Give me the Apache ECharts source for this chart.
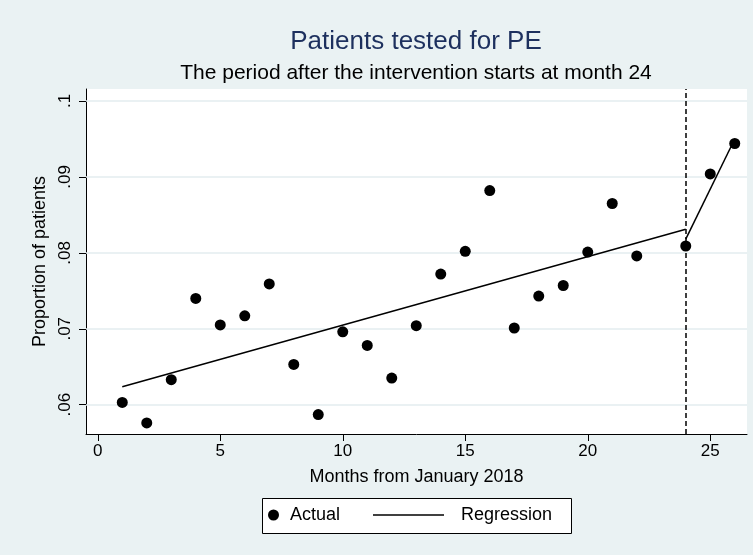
<!DOCTYPE html>
<html>
<head>
<meta charset="utf-8">
<script src="https://cdn.jsdelivr.net/npm/echarts@6/dist/echarts.min.js"></script>
<style>
html,body{margin:0;padding:0;background:#EAF2F3;}
#c{width:753px;height:555px;}
</style>
</head>
<body>
<div id="c"></div>
<script>
// ---- data ----
const months = [1,2,3,4,5,6,7,8,9,10,11,12,13,14,15,16,17,18,19,20,21,22,24,25,26];
const actual = [0.0603,0.0576,0.0633,0.0740,0.0705,0.0717,0.0759,0.0653,0.0587,0.0696,0.0678,0.0635,0.0704,0.0772,0.0802,0.0882,0.0701,0.0743,0.0757,0.0801,0.0865,0.0796,0.0809,0.0904,0.0944];
const regPreX = [1, 24];
const regPreY = [0.06237, 0.08312];
const regPostX = [24, 26];
const regPostY = [0.0818, 0.0950];
const interventionMonth = 24;
const xTicks = [0,5,10,15,20,25];
const yTicks = [0.06,0.07,0.08,0.09,0.1];

const FONT = 'Liberation Sans, Arial, Helvetica, sans-serif';
const chart = echarts.init(document.getElementById('c'), null, {renderer:'canvas'});

const fmtY = v => String(+(+v).toFixed(2)).replace(/^0/, '');

const option = {
  backgroundColor: '#EAF2F3',
  animation: false,
  textStyle: {fontFamily: FONT},
  title: [
    {text: 'Patients tested for PE', left: 416, textAlign: 'center', top: 29, padding: 0,
     textStyle: {fontSize: 26, color: '#1D305E', fontWeight: 'normal', fontFamily: FONT}},
    {text: 'The period after the intervention starts at month 24', left: 416, textAlign: 'center', top: 63, padding: 0,
     textStyle: {fontSize: 21, color: '#000', fontWeight: 'normal', fontFamily: FONT}}
  ],
  grid: {left: 86, right: 6, top: 89, bottom: 121, show: true, backgroundColor: '#fff', borderWidth: 0, containLabel: false},
  xAxis: {
    type: 'value', min: -0.48, max: 26.5,
    name: 'Months from January 2018', nameLocation: 'middle', nameGap: 34,
    nameTextStyle: {fontSize: 18, color: '#000', fontFamily: FONT},
    axisLine: {show: true, onZero: false, lineStyle: {color: '#000', width: 1}},
    axisTick: {show: true, customValues: xTicks, length: 7, lineStyle: {color: '#000', width: 1}},
    axisLabel: {show: true, customValues: xTicks, fontSize: 17, color: '#000', margin: 9, fontFamily: FONT},
    splitLine: {show: false}
  },
  yAxis: {
    type: 'value', min: 0.05614, max: 0.10158,
    name: 'Proportion of patients', nameLocation: 'middle', nameGap: 35,
    nameTextStyle: {fontSize: 18, color: '#000', fontFamily: FONT},
    axisLine: {show: true, onZero: false, lineStyle: {color: '#000', width: 1}},
    axisTick: {show: true, customValues: yTicks, length: 7, lineStyle: {color: '#000', width: 1}},
    axisLabel: {show: true, customValues: yTicks, rotate: 90, fontSize: 17, color: '#000', margin: 12,
                formatter: fmtY, fontFamily: FONT},
    splitLine: {show: false}
  },
  legend: [
    {data: ['Actual'], left: 268, top: 506, padding: 0, itemWidth: 11, itemHeight: 11, icon: 'circle',
     itemStyle: {color: '#000', opacity: 1},
     textStyle: {fontSize: 18, color: '#000', fontFamily: FONT, padding: [0,0,0,6]}},
    {data: ['Regression'], left: 373, top: 506, padding: 0, itemWidth: 71, itemHeight: 1.5, icon: 'rect',
     itemStyle: {color: '#000'},
     textStyle: {fontSize: 18, color: '#000', fontFamily: FONT, padding: [0,0,0,12]}}
  ],
  graphic: [
    {type: 'rect', left: 262, top: 498, z: 1, silent: true,
     shape: {width: 309, height: 35}, style: {fill: '#fff', stroke: '#000', lineWidth: 1}}
  ],
  series: [
    {
      name: 'grid', type: 'line', data: [], silent: true,
      markLine: {silent: true, z: 1, symbol: ['none','none'], label: {show: false},
                 lineStyle: {color: '#E3EDEF', width: 1.5, type: 'solid'},
                 data: yTicks.map(v => ({yAxis: v}))}
    },
    {
      name: 'Regression', type: 'line', z: 9, symbol: 'none',
      lineStyle: {color: '#000', width: 1.5}, itemStyle: {color: '#000'},
      data: regPreX.map((x,i) => [x, regPreY[i]]),
      markLine: {silent: true, z: 5, symbol: ['none','none'], label: {show: false},
                 lineStyle: {color: '#000', width: 1.5, type: [5,3]},
                 data: [{xAxis: interventionMonth}]}
    },
    {
      name: 'Regression', type: 'line', z: 9, symbol: 'none',
      lineStyle: {color: '#000', width: 1.5}, itemStyle: {color: '#000'},
      data: regPostX.map((x,i) => [x, regPostY[i]])
    },
    {
      name: 'Actual', type: 'scatter', z: 10, symbol: 'circle', symbolSize: 11,
      itemStyle: {color: '#000', opacity: 1},
      data: months.map((m,i) => [m, actual[i]])
    }
  ]
};
chart.setOption(option);
</script>
</body>
</html>
